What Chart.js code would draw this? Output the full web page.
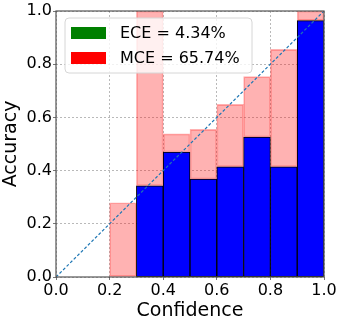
<!DOCTYPE html>
<html>
<head>
<meta charset="utf-8">
<script src="https://cdn.jsdelivr.net/npm/chart.js@4/dist/chart.umd.min.js"></script>
<style>
  html, body { margin: 0; padding: 0; background: #fff; }
  #wrap { width: 342px; height: 324px; position: relative; }
</style>
</head>
<body>
<div id="wrap"><canvas id="chart"></canvas></div>
<script>
const binCenters = [0.05, 0.15, 0.25, 0.35, 0.45, 0.55, 0.65, 0.75, 0.85, 0.95];
const accuracy = [0, 0, 0, 0.343, 0.47, 0.368, 0.414, 0.526, 0.414, 0.964];
const gap = [0, 0, 0.279, 0.657, 0.068, 0.187, 0.235, 0.227, 0.442, 0.036];
const diagonalX = [0, 1];
const diagonalY = [0, 1];
const tickValues = [0, 0.2, 0.4, 0.6, 0.8, 1.0];
const legendLabels = ['ECE = 4.34%', 'MCE = 65.74%'];
const legendColors = ['#008000', '#ff0000'];

const FONT = "'DejaVu Sans', sans-serif";

function setTicks(scale) {
  scale.ticks = tickValues.map((v) => ({ value: v }));
}

const frameAndLegend = {
  id: 'frameAndLegend',
  afterDraw(chart) {
    const ctx = chart.ctx;
    const area = chart.chartArea;
    ctx.save();
    // axes box
    ctx.strokeStyle = '#555';
    ctx.lineWidth = 1.2;
    ctx.strokeRect(area.left, area.top, area.right - area.left, area.bottom - area.top);

    // legend box
    const x = area.left + 9;
    const y = area.top + 7;
    const w = 187;
    const h = 55;
    ctx.beginPath();
    ctx.roundRect(x, y, w, h, 4);
    ctx.fillStyle = 'rgba(255,255,255,0.8)';
    ctx.fill();
    ctx.strokeStyle = '#d6d6d6';
    ctx.lineWidth = 1;
    ctx.stroke();

    ctx.font = '16px ' + FONT;
    ctx.textBaseline = 'middle';
    legendLabels.forEach((label, i) => {
      const rowY = y + 15 + i * 25;
      ctx.fillStyle = legendColors[i];
      ctx.fillRect(x + 6, rowY - 6, 35, 12);
      ctx.fillStyle = '#000';
      ctx.fillText(label, x + 55, rowY + 1);
    });
    ctx.restore();
  },
};

new Chart(document.getElementById('chart'), {
  type: 'bar',
  data: {
    datasets: [
      {
        type: 'line',
        data: diagonalX.map((v, i) => ({ x: v, y: diagonalY[i] })),
        borderColor: '#1f77b4',
        borderWidth: 1.2,
        borderDash: [3, 2],
        pointRadius: 0,
        fill: false,
        order: 0,
      },
      {
        data: binCenters.map((c, i) => ({ x: c, y: accuracy[i] })),
        backgroundColor: '#0000ff',
        borderColor: '#000',
        borderWidth: 1,
        borderSkipped: false,
        grouped: false,
        categoryPercentage: 1,
        barPercentage: 1,
        order: 1,
      },
      {
        data: binCenters.map((c, i) => ({ x: c, y: [accuracy[i], accuracy[i] + gap[i]] })),
        backgroundColor: 'rgba(255,0,0,0.3)',
        borderColor: 'rgba(255,0,0,0.3)',
        borderWidth: 1,
        borderSkipped: false,
        grouped: false,
        categoryPercentage: 1,
        barPercentage: 1,
        order: 2,
      },
    ],
  },
  options: {
    responsive: true,
    maintainAspectRatio: false,
    animation: false,
    layout: { padding: { left: 0, top: 11, right: 18, bottom: 0 } },
    plugins: {
      legend: { display: false },
      tooltip: { enabled: false },
    },
    scales: {
      x: {
        type: 'linear',
        min: 0,
        max: 1,
        offset: false,
        afterBuildTicks: setTicks,
        afterFit: (scale) => { scale.height = 47; },
        ticks: {
          color: '#000',
          font: { family: FONT, size: 16 },
          padding: 1,
          maxRotation: 0,
          callback: (v) => v.toFixed(1),
        },
        grid: {
          offset: false,
          color: 'rgba(0,0,0,0.35)',
          lineWidth: 0.8,
          tickLength: 3,
          tickColor: '#555',
          tickBorderDash: [],
        },
        border: { display: false, dash: [2, 2] },
        title: {
          display: true,
          text: 'Confidence',
          color: '#000',
          font: { family: FONT, size: 19 },
          padding: { top: 0, bottom: 2 },
        },
      },
      y: {
        min: 0,
        max: 1,
        afterBuildTicks: setTicks,
        afterFit: (scale) => { scale.width = 56; },
        ticks: {
          color: '#000',
          font: { family: FONT, size: 16 },
          padding: 1,
          callback: (v) => v.toFixed(1),
        },
        grid: {
          color: 'rgba(0,0,0,0.35)',
          lineWidth: 0.8,
          tickLength: 3,
          tickColor: '#555',
          tickBorderDash: [],
        },
        border: { display: false, dash: [2, 2] },
        title: {
          display: true,
          text: 'Accuracy',
          color: '#000',
          font: { family: FONT, size: 19 },
          padding: { top: 0, bottom: 1 },
        },
      },
    },
  },
  plugins: [frameAndLegend],
});
</script>
</body>
</html>
